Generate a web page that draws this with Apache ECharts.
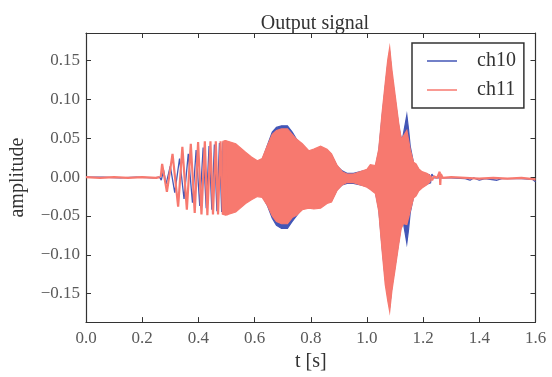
<!DOCTYPE html>
<html>
<head>
<meta charset="utf-8">
<script src="https://cdn.jsdelivr.net/npm/echarts@6/dist/echarts.min.js"></script>
<style>
  html, body { margin: 0; padding: 0; background: #fff; }
  #chart { width: 552px; height: 377px; }
</style>
</head>
<body>
<div id="chart"></div>
<script>
// Axis ticks
const xTicks = [0, 0.2, 0.4, 0.6, 0.8, 1.0, 1.2, 1.4, 1.6];
const yTicks = [-0.15, -0.10, -0.05, 0.00, 0.05, 0.10, 0.15];

// ch11: quiet lead-in, chirp extrema, then the dense envelope, then the tail
const ch11Lead = [[0, 0.000], [0.05, -0.001], [0.10, 0.000], [0.15, -0.001], [0.20, 0.000], [0.25, -0.001], [0.262, 0.000]];
const ch11Chirp = [[0.266, 0.000], [0.271, 0.017], [0.288, -0.019], [0.308, 0.030], [0.328, -0.038], [0.343, 0.039],
  [0.359, -0.042], [0.373, 0.043], [0.387, -0.046], [0.399, 0.045], [0.411, -0.048], [0.423, 0.046],
  [0.432, -0.049], [0.443, 0.046], [0.452, -0.048], [0.462, 0.046], [0.470, -0.048], [0.479, 0.046],
  [0.487, -0.048], [0.495, 0.047], [0.502, -0.049]];
const ch11Tail = [[1.225, 0.002], [1.232, -0.004], [1.238, 0.001], [1.250, -0.001], [1.259, 0.007], [1.261, -0.010],
  [1.263, 0.004], [1.270, -0.001], [1.30, 0.000], [1.35, -0.001], [1.40, -0.002], [1.45, -0.001],
  [1.50, -0.002], [1.55, -0.001], [1.60, -0.003]];

const ch11EnvT = [0.487, 0.497, 0.533, 0.568, 0.589, 0.610, 0.627, 0.645, 0.663, 0.678, 0.696, 0.717, 0.734, 0.749,
  0.770, 0.793, 0.811, 0.835, 0.858, 0.874, 0.894, 0.912, 0.929, 0.952, 0.977, 1.000, 1.012, 1.030, 1.042,
  1.054, 1.065, 1.074, 1.081, 1.089, 1.101, 1.113, 1.122, 1.130, 1.142, 1.154, 1.166, 1.175, 1.184, 1.196,
  1.213, 1.225];
const ch11Upper = [0.046, 0.047, 0.043, 0.032, 0.026, 0.021, 0.024, 0.040, 0.055, 0.060, 0.062, 0.062, 0.055, 0.049,
  0.043, 0.034, 0.036, 0.040, 0.036, 0.030, 0.015, 0.007, 0.004, 0.004, 0.007, 0.010, 0.016, 0.015, 0.036,
  0.083, 0.121, 0.151, 0.167, 0.138, 0.104, 0.070, 0.049, 0.053, 0.060, 0.036, 0.019, 0.017, 0.011, 0.007,
  0.005, 0.002];
const ch11Lower = [-0.048, -0.049, -0.045, -0.034, -0.029, -0.025, -0.026, -0.036, -0.050, -0.057, -0.060, -0.060, -0.052, -0.049,
  -0.042, -0.040, -0.041, -0.040, -0.034, -0.032, -0.017, -0.010, -0.007, -0.007, -0.010, -0.013, -0.016, -0.021, -0.044,
  -0.095, -0.138, -0.159, -0.173, -0.146, -0.117, -0.087, -0.066, -0.060, -0.061, -0.044, -0.027, -0.024, -0.018, -0.014,
  -0.010, -0.006];

// ch10: same layout as ch11
const ch10Lead = [[0, 0.000], [0.06, 0.000], [0.12, -0.001], [0.18, 0.000], [0.24, -0.001], [0.262, 0.000]];
const ch10Chirp = [[0.262, 0.000], [0.268, -0.004], [0.276, 0.009], [0.285, -0.009], [0.300, 0.014], [0.316, -0.020],
  [0.333, 0.024], [0.349, -0.028], [0.364, 0.030], [0.379, -0.033], [0.392, 0.035], [0.405, -0.037],
  [0.417, 0.038], [0.428, -0.040], [0.438, 0.040], [0.448, -0.042], [0.457, 0.042], [0.466, -0.044],
  [0.475, 0.044], [0.483, -0.045], [0.491, 0.045], [0.499, -0.046]];
const ch10Tail = [[1.220, 0.003], [1.226, -0.008], [1.231, 0.004], [1.240, -0.001], [1.30, -0.001], [1.35, -0.002],
  [1.367, -0.004], [1.38, -0.001], [1.40, -0.004], [1.42, -0.002], [1.463, -0.004], [1.48, -0.002],
  [1.55, -0.002], [1.59, -0.003], [1.60, -0.006]];

const ch10EnvT = [0.487, 0.497, 0.533, 0.568, 0.589, 0.610, 0.627, 0.645, 0.663, 0.678, 0.696, 0.717, 0.734, 0.749,
  0.770, 0.793, 0.811, 0.835, 0.858, 0.874, 0.894, 0.912, 0.929, 0.952, 0.977, 1.000, 1.012, 1.030, 1.042,
  1.054, 1.065, 1.074, 1.081, 1.089, 1.101, 1.113, 1.122, 1.128, 1.136, 1.142, 1.148, 1.154, 1.166, 1.175,
  1.184, 1.196, 1.213, 1.222];
const ch10Upper = [0.044, 0.045, 0.041, 0.030, 0.024, 0.019, 0.022, 0.040, 0.058, 0.064, 0.066, 0.066, 0.058, 0.049,
  0.041, 0.032, 0.034, 0.038, 0.034, 0.028, 0.014, 0.008, 0.005, 0.005, 0.007, 0.009, 0.014, 0.013, 0.033,
  0.078, 0.115, 0.145, 0.160, 0.130, 0.098, 0.066, 0.050, 0.052, 0.068, 0.080, 0.062, 0.040, 0.018, 0.015,
  0.010, 0.006, 0.004, 0.003];
const ch10Lower = [-0.046, -0.047, -0.043, -0.032, -0.027, -0.023, -0.024, -0.036, -0.053, -0.062, -0.066, -0.066, -0.057, -0.050,
  -0.040, -0.038, -0.039, -0.038, -0.032, -0.030, -0.016, -0.010, -0.008, -0.008, -0.010, -0.012, -0.015, -0.019, -0.041,
  -0.090, -0.130, -0.152, -0.166, -0.140, -0.112, -0.083, -0.062, -0.055, -0.072, -0.085, -0.068, -0.046, -0.025, -0.022,
  -0.016, -0.012, -0.009, -0.008];

const serif = '"Liberation Serif", "DejaVu Serif", serif';
const blue = '#4356B6';
const red = '#F7796F';

function bandSeries(name, color, ts, up, lo, z) {
  return {
    name: name,
    type: 'custom',
    z: z,
    clip: true,
    itemStyle: { color: color },
    data: [[ts[0], up[0]]],
    renderItem: function (params, api) {
      const pts = [];
      for (let i = 0; i < ts.length; i++) pts.push(api.coord([ts[i], up[i]]));
      for (let i = ts.length - 1; i >= 0; i--) pts.push(api.coord([ts[i], lo[i]]));
      return {
        type: 'polygon',
        shape: { points: pts },
        style: { fill: color, stroke: color, lineWidth: 1.2 }
      };
    }
  };
}

function lineSeries(name, color, width, pieces, z) {
  const data = [];
  pieces.forEach(function (p, k) {
    if (k > 0) data.push([null, null]);
    p.forEach(function (d) { data.push(d); });
  });
  return {
    name: name,
    type: 'line',
    z: z,
    showSymbol: false,
    symbol: 'none',
    connectNulls: false,
    animation: false,
    itemStyle: { color: color },
    lineStyle: { color: color, width: width },
    data: data
  };
}

const chart = echarts.init(document.getElementById('chart'), null, { renderer: 'canvas' });

const fmtY = function (v) {
  const s = Math.abs(v).toFixed(2);
  return v < -1e-9 ? '\u2212' + s : s;
};

chart.setOption({
  animation: false,
  backgroundColor: '#fff',
  title: {
    text: 'Output signal',
    left: 310,
    textAlign: 'center',
    top: 9,
    textStyle: { fontFamily: serif, fontSize: 20, fontWeight: 'normal', color: '#333' }
  },
  legend: {
    orient: 'vertical',
    left: 412,
    top: 43,
    padding: [8, 8, 8, 15],
    itemGap: 9,
    itemWidth: 30,
    itemHeight: 1.5,
    icon: 'rect',
    borderColor: '#333',
    borderWidth: 1.5,
    backgroundColor: '#fff',
    data: ['ch10', 'ch11'],
    textStyle: { fontFamily: serif, fontSize: 20, color: '#333', lineHeight: 20, padding: [0, 0, 0, 15] }
  },
  grid: { left: 85, right: 16.5, top: 33, bottom: 52, show: false },
  xAxis: [{
    type: 'value', min: 0, max: 1.6, interval: 0.2, position: 'bottom',
    name: 't [s]', nameLocation: 'middle', nameGap: 22,
    nameTextStyle: { fontFamily: serif, fontSize: 20, color: '#333' },
    axisLine: { show: true, onZero: false, lineStyle: { color: '#333', width: 1.2 } },
    axisTick: { show: true, inside: true, length: 5, lineStyle: { color: '#333' } },
    axisLabel: { fontFamily: serif, fontSize: 17, color: '#5a5a5a', margin: 8, formatter: function (v) { return v.toFixed(1); } },
    splitLine: { show: false }
  }, {
    type: 'value', min: 0, max: 1.6, interval: 0.2, position: 'top',
    axisLine: { show: true, onZero: false, lineStyle: { color: '#333', width: 1.2 } },
    axisTick: { show: true, inside: true, length: 5, lineStyle: { color: '#333' } },
    axisLabel: { show: false },
    splitLine: { show: false }
  }],
  yAxis: [{
    type: 'value', min: -0.1866, max: 0.1855, position: 'left',
    name: 'amplitude', nameLocation: 'middle', nameGap: 58, nameRotate: 90,
    nameTextStyle: { fontFamily: serif, fontSize: 20, color: '#333' },
    axisLine: { show: true, onZero: false, lineStyle: { color: '#333', width: 1.2 } },
    axisTick: { show: true, inside: true, length: 5, customValues: yTicks, lineStyle: { color: '#333' } },
    axisLabel: { fontFamily: serif, fontSize: 17, color: '#5a5a5a', margin: 6, customValues: yTicks, formatter: fmtY },
    splitLine: { show: false }
  }, {
    type: 'value', min: -0.1866, max: 0.1855, position: 'right',
    axisLine: { show: true, onZero: false, lineStyle: { color: '#333', width: 1.2 } },
    axisTick: { show: true, inside: true, length: 5, customValues: yTicks, lineStyle: { color: '#333' } },
    axisLabel: { show: false },
    splitLine: { show: false }
  }],
  series: [
    bandSeries('ch10', blue, ch10EnvT, ch10Upper, ch10Lower, 2),
    lineSeries('ch10', blue, 1.3, [ch10Lead, ch10Chirp, ch10Tail], 3),
    bandSeries('ch11', red, ch11EnvT, ch11Upper, ch11Lower, 4),
    lineSeries('ch11', red, 2.2, [ch11Lead, ch11Chirp, ch11Tail], 5)
  ]
});
</script>
</body>
</html>
